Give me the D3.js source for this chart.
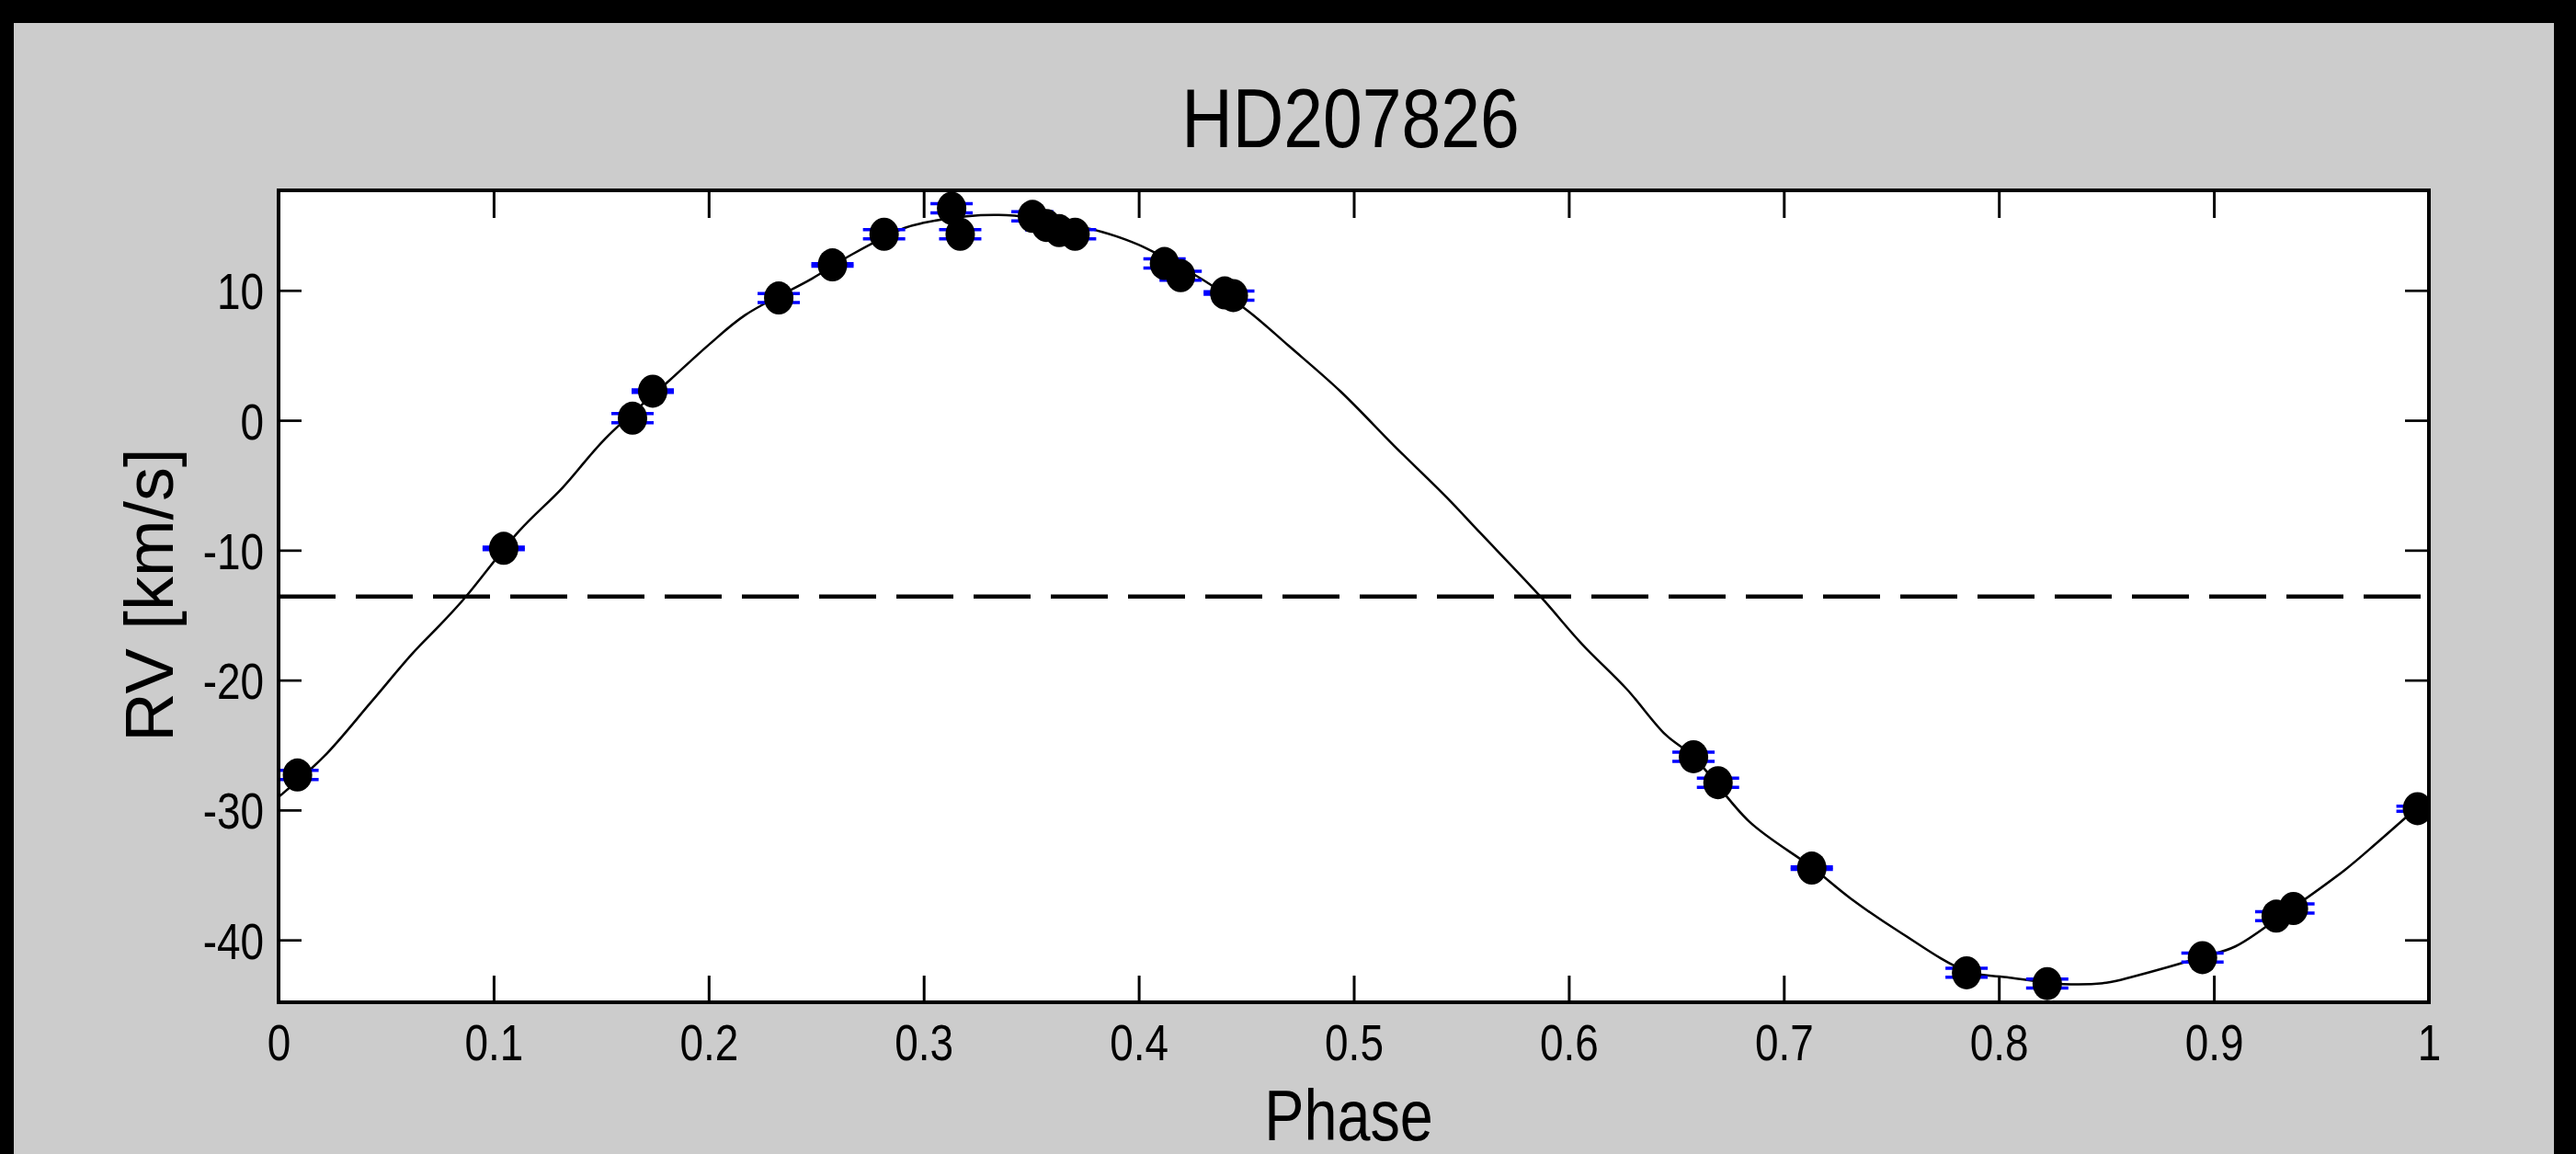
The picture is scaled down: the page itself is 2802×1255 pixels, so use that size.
<!DOCTYPE html>
<html>
<head>
<meta charset="utf-8">
<script src="https://cdn.jsdelivr.net/npm/d3@7"></script>
<style>
  body { margin: 0; background: #000; }
  svg { display: block; }
  text { font-family: "Liberation Sans", Arial, sans-serif; fill: #000; }
</style>
</head>
<body>
<svg id="chart" width="2802" height="1255"></svg>
<script>
// Observations (phase, RV in km/s, error)
var obsPhase = [0.0088, 0.1047, 0.1646, 0.174, 0.2326, 0.2576, 0.2816, 0.313, 0.317,
    0.3506, 0.357, 0.363, 0.3704, 0.412, 0.4195, 0.440, 0.444,
    0.658, 0.6694, 0.713, 0.785, 0.8225, 0.8947, 0.929, 0.937, 0.9947];
var obsRV = [-27.3, -9.86, 0.16, 2.24, 9.41, 11.96, 14.32, 16.32, 14.32,
    15.7, 15.0, 14.6, 14.32, 12.07, 11.13, 9.8, 9.6,
    -25.9, -27.9, -34.47, -42.53, -43.36, -41.36, -38.17, -37.58, -29.9];
var obsErr = [0.35, 0.1, 0.35, 0.1, 0.35, 0.1, 0.35, 0.35, 0.35,
    0.35, 0.35, 0.35, 0.35, 0.35, 0.35, 0.1, 0.35,
    0.35, 0.35, 0.1, 0.35, 0.35, 0.35, 0.35, 0.35, 0.2];

// Fitted orbit curve
var curvePhase = [0, 0.021, 0.043, 0.062, 0.076, 0.087, 0.112, 0.132, 0.152, 0.182,
    0.2, 0.217, 0.248, 0.267, 0.291, 0.3, 0.32, 0.335, 0.35, 0.37,
    0.383, 0.394, 0.404, 0.43, 0.451, 0.47, 0.494, 0.519, 0.543, 0.559,
    0.587, 0.606, 0.627, 0.645, 0.658, 0.684, 0.713, 0.731, 0.754, 0.785,
    0.805, 0.83, 0.85, 0.863, 0.895, 0.91, 0.93, 0.961, 0.976, 1.0];
var curveRV = [-29.0, -25.9, -21.7, -18.0, -15.6, -13.6, -8.5, -5.2, -1.4, 3.1,
    5.8, 8.1, 10.9, 12.8, 14.8, 15.2, 15.7, 15.8, 15.6, 15.0,
    14.5, 13.9, 13.2, 10.8, 8.4, 5.7, 2.2, -2.0, -5.9, -8.7,
    -13.6, -17.2, -20.7, -24.2, -25.9, -30.9, -34.4, -36.8, -39.4, -42.4,
    -42.9, -43.4, -43.3, -42.8, -41.3, -40.5, -38.3, -34.6, -32.5, -29.0];

// Systemic velocity (dashed line)
var systemicRV = -13.57;

var xTicks = [0, 0.1, 0.2, 0.3, 0.4, 0.5, 0.6, 0.7, 0.8, 0.9, 1];
var xTickLabels = ["0", "0.1", "0.2", "0.3", "0.4", "0.5", "0.6", "0.7", "0.8", "0.9", "1"];
var yTicks = [-40, -30, -20, -10, 0, 10];
var yTickLabels = ["-40", "-30", "-20", "-10", "0", "10"];

var titleText = "HD207826";
var xLabel = "Phase";
var yLabel = "RV [km/s]";

// Layout
var svg = d3.select("#chart");
var plot = {left: 303, right: 2642, top: 207, bottom: 1090};

svg.append("rect")
    .attr("x", 15).attr("y", 25)
    .attr("width", 2778 - 15).attr("height", 1255 - 25)
    .attr("fill", "#cccccc");

var x = d3.scaleLinear().domain([0, 1]).range([plot.left, plot.right]);
var y = d3.scaleLinear().domain([-44.8, 17.7]).range([plot.bottom, plot.top]);

svg.append("rect")
    .attr("x", plot.left).attr("y", plot.top)
    .attr("width", plot.right - plot.left).attr("height", plot.bottom - plot.top)
    .attr("fill", "#ffffff");

svg.append("clipPath").attr("id", "clip")
    .append("rect")
    .attr("x", plot.left).attr("y", plot.top)
    .attr("width", plot.right - plot.left).attr("height", plot.bottom - plot.top);

var g = svg.append("g").attr("clip-path", "url(#clip)");

// Fitted curve
var line = d3.line()
    .x(function(d) { return x(d[0]); })
    .y(function(d) { return y(d[1]); })
    .curve(d3.curveCatmullRom.alpha(0.5));

g.append("path")
    .datum(d3.zip(curvePhase, curveRV))
    .attr("d", line)
    .attr("fill", "none")
    .attr("stroke", "#000")
    .attr("stroke-width", 2.5);

// Dashed systemic line
g.append("line")
    .attr("x1", x(0)).attr("x2", x(1))
    .attr("y1", y(systemicRV)).attr("y2", y(systemicRV))
    .attr("stroke", "#000")
    .attr("stroke-width", 4.5)
    .attr("stroke-dasharray", "62,22");

var obs = obsPhase.map(function(p, i) {
    return {phase: p, rv: obsRV[i], err: obsErr[i]};
});

// Error bars (blue)
var eb = g.append("g").attr("stroke", "#0000ff").attr("stroke-width", 3.5);
obs.forEach(function(d) {
    var cx = x(d.phase);
    eb.append("line")
        .attr("x1", cx).attr("x2", cx)
        .attr("y1", y(d.rv - d.err)).attr("y2", y(d.rv + d.err));
    [d.rv - d.err, d.rv + d.err].forEach(function(v) {
        eb.append("line")
            .attr("x1", cx - 23).attr("x2", cx + 23)
            .attr("y1", y(v)).attr("y2", y(v));
    });
});

// Markers
g.append("g")
    .selectAll("ellipse")
    .data(obs)
    .enter().append("ellipse")
    .attr("cx", function(d) { return x(d.phase); })
    .attr("cy", function(d) { return y(d.rv); })
    .attr("rx", 16)
    .attr("ry", 18)
    .attr("fill", "#000");

// Axes
var xAxis = d3.axisBottom(x).tickValues(xTicks)
    .tickFormat(function(d, i) { return xTickLabels[i]; })
    .tickSizeInner(-29).tickSizeOuter(0);
var xAxisTop = d3.axisTop(x).tickValues(xTicks)
    .tickFormat("").tickSizeInner(-30).tickSizeOuter(0);
var yAxis = d3.axisLeft(y).tickValues(yTicks)
    .tickFormat(function(d, i) { return yTickLabels[i]; })
    .tickSizeInner(-25).tickSizeOuter(0);
var yAxisRight = d3.axisRight(y).tickValues(yTicks)
    .tickFormat("").tickSizeInner(-26).tickSizeOuter(0);

function styleAxis(sel) {
    sel.select(".domain").remove();
    sel.selectAll(".tick line").attr("stroke", "#000").attr("stroke-width", 3);
}

var gx = svg.append("g").attr("transform", "translate(0," + plot.bottom + ")").call(xAxis);
styleAxis(gx);
gx.selectAll("text")
    .attr("y", 0).attr("dy", null).attr("x", 0)
    .attr("fill", "#000")
    .attr("text-anchor", "middle")
    .attr("font-size", 56)
    .attr("font-family", "Liberation Sans, Arial, sans-serif")
    .attr("transform", "translate(0,63) scale(0.82,1)");

var gxt = svg.append("g").attr("transform", "translate(0," + plot.top + ")").call(xAxisTop);
styleAxis(gxt);

var gy = svg.append("g").attr("transform", "translate(" + plot.left + ",0)").call(yAxis);
styleAxis(gy);
gy.selectAll(".tick line").attr("stroke-width", 2.7);
gy.selectAll("text")
    .attr("x", 0).attr("dy", null).attr("y", 0)
    .attr("fill", "#000")
    .attr("text-anchor", "end")
    .attr("font-size", 56)
    .attr("font-family", "Liberation Sans, Arial, sans-serif")
    .attr("transform", "translate(-16,20) scale(0.82,1)");

var gyr = svg.append("g").attr("transform", "translate(" + plot.right + ",0)").call(yAxisRight);
styleAxis(gyr);
gyr.selectAll(".tick line").attr("stroke-width", 2.7);

// Box
svg.append("rect")
    .attr("x", plot.left).attr("y", plot.top)
    .attr("width", plot.right - plot.left).attr("height", plot.bottom - plot.top)
    .attr("fill", "none")
    .attr("stroke", "#000")
    .attr("stroke-width", 4);

// Title and axis labels
svg.append("text")
    .attr("text-anchor", "middle")
    .attr("font-size", 91)
    .attr("transform", "translate(1469,160) scale(0.845,1)")
    .text(titleText);

svg.append("text")
    .attr("text-anchor", "middle")
    .attr("font-size", 78)
    .attr("transform", "translate(1467,1240) scale(0.83,1)")
    .text(xLabel);

svg.append("text")
    .attr("text-anchor", "middle")
    .attr("font-size", 74)
    .attr("transform", "translate(188,647) rotate(-90)")
    .text(yLabel);
</script>
</body>
</html>
